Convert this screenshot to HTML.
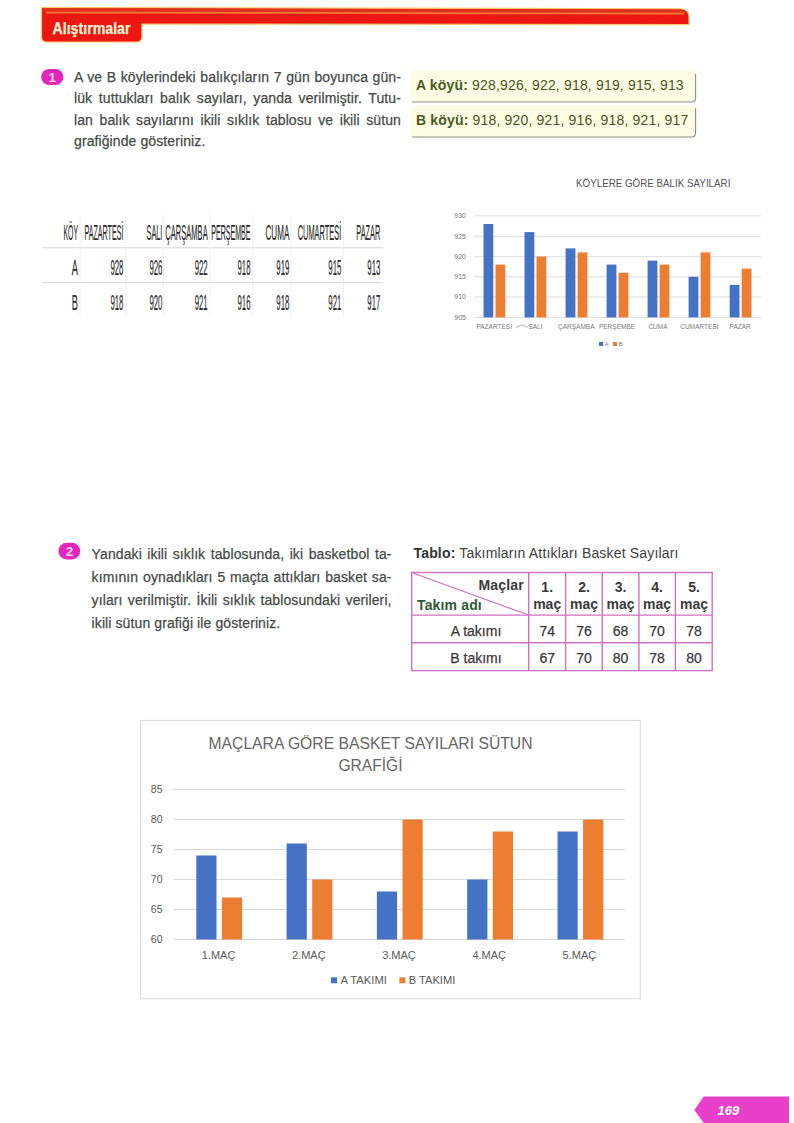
<!DOCTYPE html>
<html><head><meta charset="utf-8">
<style>
html,body{margin:0;padding:0;background:#fff;}
body{width:794px;height:1123px;position:relative;overflow:hidden;font-family:"Liberation Sans",sans-serif;}
svg{position:absolute;left:0;top:0;}
.p{position:absolute;font-size:14px;color:#464b48;-webkit-text-stroke:0.25px #464b48;letter-spacing:0.1px;}
.p div{text-align:justify;text-align-last:justify;white-space:nowrap;}
.p div.last{text-align-last:left;}
</style></head>
<body>
<svg width="794" height="1123" viewBox="0 0 794 1123" font-family="Liberation Sans, sans-serif">
  <!-- header bar -->
  <path d="M41.5 7.5 L680 8.8 Q689 8.8 689 17.5 V24.6 L141.9 24 V37 Q141.9 42 136.9 42 H46.5 Q41.5 42 41.5 37 Z" fill="#ec1713" stroke="#f9c46a" stroke-width="1.2"/>
  <path d="M42.5 8.3 L680 9.5 Q686 9.8 687.5 13 L42.5 11.8 Z" fill="#e0301e"/>
  <line x1="46" y1="12.6" x2="684" y2="13.6" stroke="#f27a34" stroke-width="1.8"/>
  <text x="52.5" y="33.8" font-size="16.8" font-weight="bold" fill="#fff2d2" stroke="#fff2d2" stroke-width="0.25" textLength="78"  lengthAdjust="spacingAndGlyphs">Alıştırmalar</text>

  <!-- circle 1 -->
  <rect x="41.2" y="69" width="22.2" height="16" rx="8" ry="8" fill="#e226bb"/>
  <text x="52.3" y="82" font-size="13.5" font-weight="bold" fill="#fbd2f3" text-anchor="middle">1</text>

  <!-- A / B köyü boxes -->
  <path d="M411 70.5 H695.6 V98 Q695.6 102 691.6 102 H411 Z" fill="#fbfce4"/>
  <path d="M695.6 74 V98 Q695.6 102 691.6 102 H412" fill="none" stroke="#8f8f86" stroke-width="1.1"/>
  <text x="416" y="90.3" font-size="14" fill="#4d5425" letter-spacing="0.17"><tspan font-weight="bold" fill="#4a5a1c">A köyü:</tspan> 928,926, 922, 918, 919, 915, 913</text>
  <path d="M411 105.5 H695.6 V133 Q695.6 137 691.6 137 H411 Z" fill="#fbfce4"/>
  <path d="M695.6 108 V133 Q695.6 137 691.6 137 H412" fill="none" stroke="#8f8f86" stroke-width="1.1"/>
  <text x="416" y="125" font-size="14" fill="#4d5425" letter-spacing="0.17"><tspan font-weight="bold" fill="#4a5a1c">B köyü:</tspan> 918, 920, 921, 916, 918, 921, 917</text>

  <!-- table 1 -->
  <g stroke="#d6d6d6" stroke-width="1">
    <line x1="41.8" y1="247.8" x2="383" y2="247.8"/>
    <line x1="41.8" y1="282.6" x2="383" y2="282.6"/>
  </g>
  <g stroke="#f0f0f0" stroke-width="1">
    <line x1="80" y1="215" x2="80" y2="316"/>
    <line x1="125.7" y1="215" x2="125.7" y2="316"/>
    <line x1="163.5" y1="215" x2="163.5" y2="316"/>
    <line x1="209.6" y1="215" x2="209.6" y2="316"/>
    <line x1="252.6" y1="215" x2="252.6" y2="316"/>
    <line x1="291" y1="215" x2="291" y2="316"/>
    <line x1="343.5" y1="215" x2="343.5" y2="316"/>
  </g>
  <g font-size="22.6" fill="#2a2a2a" stroke="#2a2a2a" stroke-width="0.2" text-anchor="end">
    <text x="78" y="239.7" textLength="14.6" lengthAdjust="spacingAndGlyphs">KÖY</text>
    <text x="123.4" y="239.7" textLength="39" lengthAdjust="spacingAndGlyphs">PAZARTESİ</text>
    <text x="162.4" y="239.7" textLength="15.8" lengthAdjust="spacingAndGlyphs">SALI</text>
    <text x="207.7" y="239.7" textLength="42.5" lengthAdjust="spacingAndGlyphs">ÇARŞAMBA</text>
    <text x="250.5" y="239.7" textLength="39.3" lengthAdjust="spacingAndGlyphs">PERŞEMBE</text>
    <text x="289.3" y="239.7" textLength="23.8" lengthAdjust="spacingAndGlyphs">CUMA</text>
    <text x="341.3" y="239.7" textLength="43.6" lengthAdjust="spacingAndGlyphs">CUMARTESİ</text>
    <text x="380.3" y="239.7" textLength="24" lengthAdjust="spacingAndGlyphs">PAZAR</text>
  </g>
  <g font-size="22.6" fill="#2a2a2a" stroke="#2a2a2a" stroke-width="0.2" text-anchor="end">
    <text x="78" y="274.5" textLength="6.2" lengthAdjust="spacingAndGlyphs">A</text>
    <text x="123.4" y="274.5" textLength="13" lengthAdjust="spacingAndGlyphs">928</text>
    <text x="162.4" y="274.5" textLength="13" lengthAdjust="spacingAndGlyphs">926</text>
    <text x="207.7" y="274.5" textLength="13" lengthAdjust="spacingAndGlyphs">922</text>
    <text x="250.5" y="274.5" textLength="13" lengthAdjust="spacingAndGlyphs">918</text>
    <text x="289.3" y="274.5" textLength="13" lengthAdjust="spacingAndGlyphs">919</text>
    <text x="341.3" y="274.5" textLength="13" lengthAdjust="spacingAndGlyphs">915</text>
    <text x="380.3" y="274.5" textLength="13" lengthAdjust="spacingAndGlyphs">913</text>
    <text x="78" y="309.6" textLength="6.2" lengthAdjust="spacingAndGlyphs">B</text>
    <text x="123.4" y="309.6" textLength="13" lengthAdjust="spacingAndGlyphs">918</text>
    <text x="162.4" y="309.6" textLength="13" lengthAdjust="spacingAndGlyphs">920</text>
    <text x="207.7" y="309.6" textLength="13" lengthAdjust="spacingAndGlyphs">921</text>
    <text x="250.5" y="309.6" textLength="13" lengthAdjust="spacingAndGlyphs">916</text>
    <text x="289.3" y="309.6" textLength="13" lengthAdjust="spacingAndGlyphs">918</text>
    <text x="341.3" y="309.6" textLength="13" lengthAdjust="spacingAndGlyphs">921</text>
    <text x="380.3" y="309.6" textLength="13" lengthAdjust="spacingAndGlyphs">917</text>
  </g>

  <!-- chart 1 -->
  <text x="576" y="187.2" font-size="10.4" fill="#535353" textLength="154.4" lengthAdjust="spacingAndGlyphs">KÖYLERE GÖRE BALIK SAYILARI</text>
  <g stroke="#dedede" stroke-width="1">
    <line x1="474" y1="215.9" x2="761" y2="215.9"/>
    <line x1="474" y1="236.3" x2="761" y2="236.3"/>
    <line x1="474" y1="256.7" x2="761" y2="256.7"/>
    <line x1="474" y1="276.8" x2="761" y2="276.8"/>
    <line x1="474" y1="297" x2="761" y2="297"/>
    <line x1="474" y1="317.4" x2="761" y2="317.4"/>
  </g>
  <g font-size="7" fill="#777" text-anchor="end">
    <text x="466" y="218.2">930</text>
    <text x="466" y="238.6">925</text>
    <text x="466" y="259">920</text>
    <text x="466" y="279.1">915</text>
    <text x="466" y="299.3">910</text>
    <text x="466" y="319.7">905</text>
  </g>
  <g id="c1bars"><rect x="483.5" y="224.0" width="9.8" height="93.4" fill="#4472c4"/><rect x="495.5" y="264.6" width="9.8" height="52.8" fill="#ed7d31"/><rect x="524.5" y="232.1" width="9.8" height="85.3" fill="#4472c4"/><rect x="536.5" y="256.5" width="9.8" height="60.9" fill="#ed7d31"/><rect x="565.6" y="248.4" width="9.8" height="69.0" fill="#4472c4"/><rect x="577.6" y="252.4" width="9.8" height="65.0" fill="#ed7d31"/><rect x="606.6" y="264.6" width="9.8" height="52.8" fill="#4472c4"/><rect x="618.6" y="272.7" width="9.8" height="44.7" fill="#ed7d31"/><rect x="647.6" y="260.6" width="9.8" height="56.8" fill="#4472c4"/><rect x="659.6" y="264.6" width="9.8" height="52.8" fill="#ed7d31"/><rect x="688.6" y="276.8" width="9.8" height="40.6" fill="#4472c4"/><rect x="700.6" y="252.4" width="9.8" height="65.0" fill="#ed7d31"/><rect x="729.7" y="284.9" width="9.8" height="32.5" fill="#4472c4"/><rect x="741.7" y="268.7" width="9.8" height="48.7" fill="#ed7d31"/></g>
  <g font-size="6.5" fill="#7a7a7a" text-anchor="middle">
    <text x="494.2" y="329">PAZARTESİ</text>
    <text x="535.5" y="329">SALI</text>
    <text x="576.3" y="329">ÇARŞAMBA</text>
    <text x="617" y="329">PERŞEMBE</text>
    <text x="658" y="329">CUMA</text>
    <text x="699.3" y="329">CUMARTESİ</text>
    <text x="740.2" y="329">PAZAR</text>
  </g>
  <path d="M515.5 328.2 Q520.5 322.8 528 327.6" fill="none" stroke="#c4c4c4" stroke-width="1.1"/>
  <rect x="599" y="342" width="4" height="4" fill="#4472c4"/>
  <text x="604.5" y="346" font-size="6" fill="#7a7a7a">A</text>
  <rect x="613" y="342" width="4" height="4" fill="#ed7d31"/>
  <text x="618.5" y="346" font-size="6" fill="#7a7a7a">B</text>

  <!-- circle 2 -->
  <rect x="58.4" y="542.8" width="21.8" height="16.6" rx="8.3" ry="8.3" fill="#e226bb"/>
  <text x="69.4" y="556.2" font-size="13.5" font-weight="bold" fill="#fbd2f3" text-anchor="middle">2</text>

  <!-- table 2 -->
  <text x="413.5" y="557.6" font-size="14" fill="#404040" letter-spacing="0.17"><tspan font-weight="bold" fill="#333">Tablo:</tspan> Takımların Attıkları Basket Sayıları</text>
  <g stroke="#d070c2" stroke-width="1.4" fill="none">
    <rect x="411.7" y="572.5" width="300.5" height="98.1"/>
    <line x1="411.7" y1="615.1" x2="712.2" y2="615.1"/>
    <line x1="411.7" y1="642.8" x2="712.2" y2="642.8"/>
    <line x1="528.7" y1="572.5" x2="528.7" y2="670.6"/>
    <line x1="565.6" y1="572.5" x2="565.6" y2="670.6"/>
    <line x1="602.3" y1="572.5" x2="602.3" y2="670.6"/>
    <line x1="638.9" y1="572.5" x2="638.9" y2="670.6"/>
    <line x1="675.4" y1="572.5" x2="675.4" y2="670.6"/>
    <line x1="411.7" y1="572.5" x2="528.7" y2="615.1" stroke-width="1.1"/>
  </g>
  <text x="524" y="589.6" font-size="14" font-weight="bold" fill="#3a3a3a" text-anchor="end" letter-spacing="0.2">Maçlar</text>
  <text x="417" y="609.9" font-size="14" font-weight="bold" fill="#2f5a35" letter-spacing="0.15">Takım adı</text>
  <g font-size="14" font-weight="bold" fill="#3a3a3a" text-anchor="middle">
    <text x="547.2" y="591.5">1.</text><text x="547.2" y="609.1">maç</text>
    <text x="584.1" y="591.5">2.</text><text x="584.1" y="609.1">maç</text>
    <text x="620.6" y="591.5">3.</text><text x="620.6" y="609.1">maç</text>
    <text x="657.1" y="591.5">4.</text><text x="657.1" y="609.1">maç</text>
    <text x="694" y="591.5">5.</text><text x="694" y="609.1">maç</text>
  </g>
  <g font-size="14" fill="#3a3a3a" stroke="#3a3a3a" stroke-width="0.25" text-anchor="middle">
    <text x="476" y="635.8">A takımı</text>
    <text x="476" y="663">B takımı</text>
    <text x="547.2" y="636">74</text><text x="584.1" y="636">76</text><text x="620.6" y="636">68</text><text x="657.1" y="636">70</text><text x="694" y="636">78</text>
    <text x="547.2" y="663.2">67</text><text x="584.1" y="663.2">70</text><text x="620.6" y="663.2">80</text><text x="657.1" y="663.2">78</text><text x="694" y="663.2">80</text>
  </g>

  <!-- chart 2 -->
  <rect x="140.5" y="720.4" width="499.7" height="278.4" fill="#fff" stroke="#d9d9d9" stroke-width="1"/>
  <g font-size="15.6" fill="#666" text-anchor="middle">
    <text x="370.5" y="748.8" textLength="324" lengthAdjust="spacingAndGlyphs">MAÇLARA GÖRE BASKET SAYILARI SÜTUN</text>
    <text x="370.5" y="771">GRAFİĞİ</text>
  </g>
  <g stroke="#d9d9d9" stroke-width="1">
    <line x1="172" y1="789.5" x2="625" y2="789.5"/>
    <line x1="174" y1="819.5" x2="625" y2="819.5"/>
    <line x1="174" y1="849.5" x2="625" y2="849.5"/>
    <line x1="174" y1="879.5" x2="625" y2="879.5"/>
    <line x1="174" y1="909.5" x2="625" y2="909.5"/>
    <line x1="174" y1="939.5" x2="625" y2="939.5"/>
  </g>
  <g font-size="10.5" fill="#595959" text-anchor="end">
    <text x="162.5" y="793.3">85</text>
    <text x="162.5" y="823.3">80</text>
    <text x="162.5" y="853.3">75</text>
    <text x="162.5" y="883.3">70</text>
    <text x="162.5" y="913.3">65</text>
    <text x="162.5" y="943.3">60</text>
  </g>
  <g id="c2bars"><rect x="196.3" y="855.5" width="20.2" height="84.0" fill="#4472c4"/><rect x="221.9" y="897.5" width="20.2" height="42.0" fill="#ed7d31"/><rect x="286.6" y="843.5" width="20.2" height="96.0" fill="#4472c4"/><rect x="312.2" y="879.5" width="20.2" height="60.0" fill="#ed7d31"/><rect x="376.9" y="891.5" width="20.2" height="48.0" fill="#4472c4"/><rect x="402.5" y="819.5" width="20.2" height="120.0" fill="#ed7d31"/><rect x="467.2" y="879.5" width="20.2" height="60.0" fill="#4472c4"/><rect x="492.8" y="831.5" width="20.2" height="108.0" fill="#ed7d31"/><rect x="557.5" y="831.5" width="20.2" height="108.0" fill="#4472c4"/><rect x="583.1" y="819.5" width="20.2" height="120.0" fill="#ed7d31"/></g>
  <g font-size="11" fill="#595959" text-anchor="middle">
    <text x="218.6" y="959">1.MAÇ</text>
    <text x="308.8" y="959">2.MAÇ</text>
    <text x="399" y="959">3.MAÇ</text>
    <text x="489.2" y="959">4.MAÇ</text>
    <text x="579.4" y="959">5.MAÇ</text>
  </g>
  <rect x="331" y="977.3" width="6" height="6" fill="#4472c4"/>
  <text x="340.4" y="984" font-size="10.8" fill="#595959" textLength="46.5" lengthAdjust="spacingAndGlyphs">A TAKIMI</text>
  <rect x="399.4" y="977.3" width="6" height="6" fill="#ed7d31"/>
  <text x="408.8" y="984" font-size="10.8" fill="#595959" textLength="46.5" lengthAdjust="spacingAndGlyphs">B TAKIMI</text>

  <!-- page tag -->
  <path d="M694.4 1110 L703.7 1096.5 H789 V1123 H703.7 Z" fill="#e840c9"/>
  <text x="717.6" y="1115" font-size="13" font-weight="bold" font-style="italic" fill="#fff">169</text>
</svg>

<div class="p" style="left:74px;top:66.6px;width:327px;line-height:21.6px;">
<div>A ve B köylerindeki balıkçıların 7 gün boyunca gün-</div>
<div>lük tuttukları balık sayıları, yanda verilmiştir. Tutu-</div>
<div>lan balık sayılarını ikili sıklık tablosu ve ikili sütun</div>
<div class="last">grafiğinde gösteriniz.</div>
</div>

<div class="p" style="left:91.6px;top:542.5px;width:300px;line-height:23px;">
<div>Yandaki ikili sıklık tablosunda, iki basketbol ta-</div>
<div>kımının oynadıkları 5 maçta attıkları basket sa-</div>
<div>yıları verilmiştir. İkili sıklık tablosundaki verileri,</div>
<div class="last">ikili sütun grafiği ile gösteriniz.</div>
</div>
</body></html>
